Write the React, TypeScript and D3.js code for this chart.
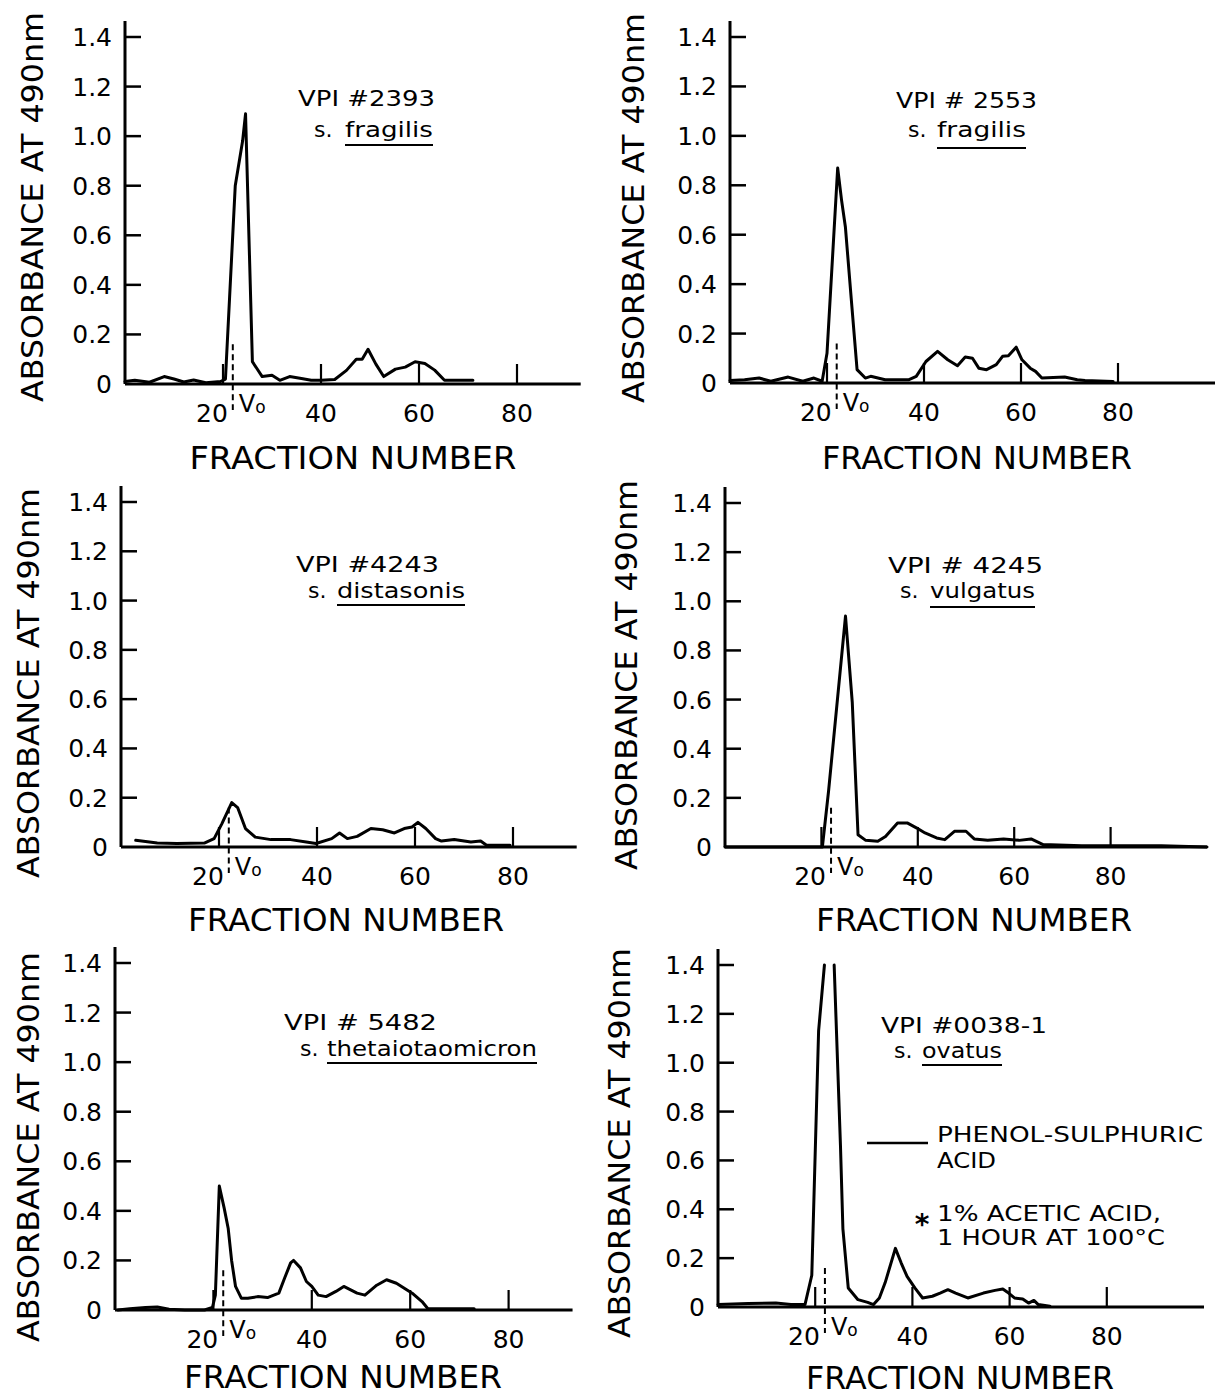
import React from "react";
import * as d3 from "d3";

type Pt = [number, number | null];

const yTicks = [0, 0.2, 0.4, 0.6, 0.8, 1.0, 1.2, 1.4];
const yTickLabels = ["0", "0.2", "0.4", "0.6", "0.8", "1.0", "1.2", "1.4"];
const xTicks = [20, 40, 60, 80];
const voidVolume = 22; // V0 marker, fraction number

// absorbance at 490 nm vs fraction number
const vpi2393: Pt[] = [
  [0, 0.01], [2, 0.015], [5, 0.007], [8, 0.03], [10, 0.02], [12, 0.008], [14, 0.016], [16.5, 0.005],
  [19.5, 0.01], [20.5, 0.02], [22.5, 0.8], [24, 0.98], [24.6, 1.09], [26, 0.09], [28, 0.03], [30, 0.035],
  [31.6, 0.015], [33.6, 0.03], [36, 0.022], [38, 0.015], [40, 0.015], [42.8, 0.018], [45.2, 0.055],
  [47.2, 0.1], [48.4, 0.1], [49.6, 0.14], [51.2, 0.08], [52.8, 0.03], [55.2, 0.06], [57.2, 0.068],
  [59.2, 0.09], [61.2, 0.083], [63.2, 0.056], [65.2, 0.015], [71, 0.015],
];
const vpi2553: Pt[] = [
  [0, 0.01], [3, 0.013], [6, 0.02], [8.4, 0.007], [12, 0.024], [15, 0.007], [17.3, 0.02], [19, 0.007],
  [20, 0.12], [22.2, 0.87], [23, 0.74], [23.8, 0.63], [25, 0.34], [26.2, 0.054], [27.9, 0.02], [29, 0.027],
  [32, 0.013], [34.3, 0.013], [36.8, 0.013], [38.4, 0.027], [40.4, 0.087], [42.8, 0.128], [44.9, 0.094],
  [46.9, 0.07], [48.5, 0.105], [50, 0.1], [51.3, 0.06], [52.9, 0.054], [54.9, 0.074], [56.2, 0.108],
  [57.4, 0.11], [59, 0.145], [60.2, 0.094], [61.9, 0.06], [63, 0.047], [64.3, 0.02], [69, 0.024],
  [71.6, 0.013], [73.2, 0.01], [79, 0.006],
];
const vpi4243: Pt[] = [
  [3, 0.027], [7.4, 0.016], [11.4, 0.014], [17, 0.016], [19, 0.034], [20.6, 0.095], [22.6, 0.18],
  [23.8, 0.16], [25.4, 0.075], [27.4, 0.04], [30.6, 0.03], [34.6, 0.03], [37.8, 0.02], [39.8, 0.014],
  [43, 0.034], [44.6, 0.057], [46.2, 0.034], [48.2, 0.043], [51, 0.075], [53.4, 0.07], [55.8, 0.057],
  [57.8, 0.075], [59.4, 0.081], [60.6, 0.1], [62.2, 0.075], [64.2, 0.034], [65.4, 0.024], [68, 0.03],
  [71.4, 0.02], [73.4, 0.024], [74.6, 0.007], [79.4, 0.007],
];
const vpi4245: Pt[] = [
  [0, 0], [20.2, 0], [21.5, 0.23], [25, 0.94], [26.4, 0.59], [27.6, 0.05], [29.2, 0.027], [31.7, 0.023],
  [33.3, 0.043], [35.8, 0.098], [37.8, 0.098], [39.8, 0.077], [41.5, 0.057], [43.9, 0.037], [45.6, 0.03],
  [47.6, 0.064], [50, 0.064], [51.7, 0.033], [54.5, 0.027], [57.8, 0.033], [61, 0.027], [63.5, 0.033],
  [66, 0.01], [74, 0.005], [82, 0.005], [90.5, 0.005], [100, 0],
];
const vpi5482: Pt[] = [
  [0.6, 0], [3, 0.005], [6.2, 0.01], [8.6, 0.012], [11, 0.003], [14.2, 0], [18.2, 0], [19.8, 0.01],
  [20.4, 0.06], [21.2, 0.5], [22.2, 0.41], [23, 0.33], [23.7, 0.2], [24.5, 0.095], [25.7, 0.047],
  [27, 0.047], [29, 0.054], [31, 0.05], [33.3, 0.068], [34.5, 0.13], [35.7, 0.19], [36.3, 0.2],
  [37.7, 0.17], [38.9, 0.115], [40, 0.095], [41.3, 0.06], [42.9, 0.054], [44.9, 0.075], [46.5, 0.095],
  [48, 0.08], [49.2, 0.068], [50.8, 0.06], [53.2, 0.1], [55.2, 0.122], [57.2, 0.108], [58.8, 0.088],
  [60.4, 0.068], [62.4, 0.034], [63.6, 0.005], [68.4, 0.005], [73, 0.005],
];
// peak runs off the top of the scale (null = off scale)
const vpi0038: Pt[] = [
  [0, 0.01], [6.2, 0.014], [11.9, 0.016], [15, 0.01], [17.9, 0.01], [19.3, 0.13], [20.7, 1.13],
  [21.9, 1.4], [22.9, null], [23.9, 1.4], [25.2, 0.66], [25.7, 0.32], [26.8, 0.078], [28.8, 0.03],
  [30.8, 0.019], [32, 0.01], [33.2, 0.037], [34.4, 0.1], [36.5, 0.24], [37.7, 0.18], [38.9, 0.125],
  [40.5, 0.078], [42.1, 0.037], [44.1, 0.044], [45.7, 0.057], [47.3, 0.071], [48.9, 0.057],
  [51.4, 0.037], [54.6, 0.057], [57, 0.068], [58.6, 0.074], [59.8, 0.057], [61, 0.037], [62.7, 0.033],
  [63.9, 0.016], [65, 0.027], [65.9, 0.01], [68.3, 0.003],
];

const strains = ["VPI #2393", "VPI # 2553", "VPI #4243", "VPI # 4245", "VPI # 5482", "VPI #0038-1"];
const species = ["fragilis", "fragilis", "distasonis", "vulgatus", "thetaiotaomicron", "ovatus"];
const series = [vpi2393, vpi2553, vpi4243, vpi4245, vpi5482, vpi0038];

const legendLines = ["PHENOL-SULPHURIC", "ACID"];
const noteLines = ["1% ACETIC ACID,", "1 HOUR AT 100°C"];

// page layout of each panel (pixels)
const layouts = [
  { x0: 125, base: 384, top: 37, xMax: 93, px: 4.9, absX: 32, absY: 207, fracX: 353, fracY: 469, fracW: 327,
    vpiX: 298, vpiY: 106, vpiW: 137, sX: 314, nameX: 345, nameW: 88, spY: 137, ulY: 145 },
  { x0: 730, base: 383, top: 37, xMax: 100, px: 4.85, absX: 633, absY: 208, fracX: 977, fracY: 469, fracW: 310,
    vpiX: 896, vpiY: 108, vpiW: 141, sX: 908, nameX: 937, nameW: 89, spY: 137, ulY: 148 },
  { x0: 121, base: 847, top: 502, xMax: 93, px: 4.9, absX: 28, absY: 683, fracX: 346, fracY: 931, fracW: 316,
    vpiX: 296, vpiY: 572, vpiW: 143, sX: 308, nameX: 337, nameW: 128, spY: 598, ulY: 605 },
  { x0: 725, base: 847, top: 503, xMax: 100, px: 4.82, absX: 626, absY: 675, fracX: 974, fracY: 931, fracW: 316,
    vpiX: 888, vpiY: 573, vpiW: 155, sX: 900, nameX: 930, nameW: 105, spY: 598, ulY: 607 },
  { x0: 115, base: 1310, top: 963, xMax: 93, px: 4.92, absX: 28, absY: 1147, fracX: 343, fracY: 1388, fracW: 318,
    vpiX: 284, vpiY: 1030, vpiW: 153, sX: 300, nameX: 327, nameW: 210, spY: 1056, ulY: 1063 },
  { x0: 718, base: 1307, top: 965, xMax: 100, px: 4.86, absX: 619, absY: 1143, fracX: 960, fracY: 1389, fracW: 308,
    vpiX: 881, vpiY: 1033, vpiW: 166, sX: 894, nameX: 922, nameW: 80, spY: 1058, ulY: 1065 },
];

const FONT = "'DejaVu Sans', sans-serif";

function Panel({ idx }: { idx: number }) {
  const L = layouts[idx];
  const data = series[idx];
  const x = d3.scaleLinear().domain([0, L.xMax]).range([L.x0, L.x0 + L.xMax * L.px]);
  const y = d3.scaleLinear().domain([0, 1.4]).range([L.base, L.top]);
  const line = d3
    .line<Pt>()
    .defined((d) => d[1] != null)
    .x((d) => x(d[0]))
    .y((d) => y(d[1] as number));
  const vx = x(voidVolume);

  return (
    <g fontFamily={FONT} fill="#000">
      {/* axes */}
      <line x1={L.x0} x2={L.x0} y1={y(1.465)} y2={L.base} stroke="#000" strokeWidth={3} />
      <line x1={L.x0} x2={x(L.xMax)} y1={L.base} y2={L.base} stroke="#000" strokeWidth={3} />
      {yTicks.map((t, i) => (
        <g key={t}>
          {t > 0 && <line x1={L.x0} x2={L.x0 + 16} y1={y(t)} y2={y(t)} stroke="#000" strokeWidth={2.5} />}
          <text x={L.x0 - 13} y={y(t)} dy="0.36em" textAnchor="end" fontSize={25}>
            {yTickLabels[i]}
          </text>
        </g>
      ))}
      {xTicks.map((t) => (
        <g key={t}>
          <line x1={x(t)} x2={x(t)} y1={L.base} y2={L.base - 20} stroke="#000" strokeWidth={2.2} />
          {t !== 20 && (
            <text x={x(t)} y={L.base + 38} textAnchor="middle" fontSize={25}>
              {t}
            </text>
          )}
        </g>
      ))}
      {/* void volume marker */}
      <line x1={vx} x2={vx} y1={y(0.16)} y2={L.base + 26} stroke="#000" strokeWidth={2} strokeDasharray="6 4" />
      <text x={vx - 5} y={L.base + 38} textAnchor="end" fontSize={25}>20</text>
      <text x={vx + 6} y={L.base + 28} fontSize={24}>
        V<tspan fontSize={17} dy={1}>o</tspan>
      </text>

      {/* curve */}
      <path d={line(data) || ""} fill="none" stroke="#000" strokeWidth={3} strokeLinejoin="round" strokeLinecap="round" />

      {/* axis titles */}
      <text x={L.fracX} y={L.fracY} textAnchor="middle" fontSize={32} textLength={L.fracW} lengthAdjust="spacingAndGlyphs">
        FRACTION NUMBER
      </text>
      <text
        transform={`translate(${L.absX},${L.absY}) rotate(-90)`}
        textAnchor="middle"
        dy="0.36em"
        fontSize={31}
        textLength={390}
        lengthAdjust="spacingAndGlyphs"
      >
        ABSORBANCE AT 490nm
      </text>

      {/* strain label */}
      <text x={L.vpiX} y={L.vpiY} fontSize={22} textLength={L.vpiW} lengthAdjust="spacingAndGlyphs">
        {strains[idx]}
      </text>
      <text x={L.sX} y={L.spY} fontSize={22}>s.</text>
      <text x={L.nameX} y={L.spY} fontSize={22} textLength={L.nameW} lengthAdjust="spacingAndGlyphs">
        {species[idx]}
      </text>
      <line x1={L.nameX} x2={L.nameX + L.nameW} y1={L.ulY} y2={L.ulY} stroke="#000" strokeWidth={2} />
    </g>
  );
}

export default function App() {
  return (
    <div style={{ position: "absolute", left: 0, top: 0 }}>
      <svg width={1226} height={1397} style={{ display: "block", background: "#fff" }}>
        {layouts.map((_, i) => (
          <Panel key={i} idx={i} />
        ))}
        {/* legend in last panel */}
        <g fontFamily={FONT} fontSize={21}>
          <line x1={867} x2={928} y1={1143} y2={1143} stroke="#000" strokeWidth={2.5} />
          <text x={937} y={1142} textLength={266} lengthAdjust="spacingAndGlyphs">{legendLines[0]}</text>
          <text x={937} y={1168} textLength={59} lengthAdjust="spacingAndGlyphs">{legendLines[1]}</text>
          <text x={922} y={1234} textAnchor="middle" fontSize={28} fontWeight="bold">*</text>
          <text x={937} y={1221} textLength={224} lengthAdjust="spacingAndGlyphs">{noteLines[0]}</text>
          <text x={937} y={1245} textLength={228} lengthAdjust="spacingAndGlyphs">{noteLines[1]}</text>
        </g>
      </svg>
    </div>
  );
}
